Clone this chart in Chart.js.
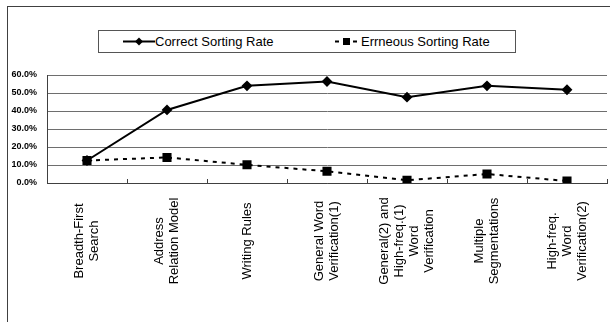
<!DOCTYPE html>
<html>
<head>
<meta charset="utf-8">
<script src="https://cdn.jsdelivr.net/npm/chart.js@4/dist/chart.umd.min.js"></script>
<style>
  html, body { margin: 0; padding: 0; background: #fff; overflow: hidden; }
  #frame { position: absolute; left: 7px; top: 6px; width: 700px; height: 400px;
           border-left: 1px solid #404040; border-top: 1px solid #404040; }
  #wrap { position: absolute; left: 0; top: 0; width: 614px; height: 322px; }
  #legend { position: absolute; left: 98px; top: 30px; width: 418px; height: 23px;
            box-sizing: border-box; border: 1px solid #555; background: #fff;
            font: 13px "Liberation Sans", Arial, sans-serif; color: #000; }
  #legend .item { position: absolute; top: 0; height: 21px; line-height: 21px; white-space: nowrap; }
  #legend svg { position: absolute; top: 4px; }
</style>
</head>
<body>
<div id="frame"></div>
<div id="wrap"><canvas id="chart"></canvas></div>
<div id="legend"></div>
<script>
var categories = [
    ['Breadth-First', 'Search'],
    ['Address', 'Relation Model'],
    ['Writing Rules'],
    ['General Word', 'Verification(1)'],
    ['General(2) and', 'High-freq.(1)', 'Word', 'Verification'],
    ['Multiple', 'Segmentations'],
    ['High-freq.', 'Word', 'Verification(2)']
];
var seriesNames = ['Correct Sorting Rate', 'Errneous Sorting Rate'];
var correctRate = [12.5, 40.6, 54.0, 56.4, 47.7, 54.0, 51.8];
var erroneousRate = [12.5, 14.2, 10.1, 6.5, 1.5, 5.0, 1.1];
var yMin = 0, yMax = 60, yStep = 10;

// legend drawn as html so the box + line/marker samples look like the original
function buildLegend() {
    var lg = document.getElementById('legend');
    lg.innerHTML =
        '<svg style="left:24px" width="32" height="13"><line x1="0" y1="6.5" x2="32" y2="6.5" stroke="#000" stroke-width="2"/>' +
        '<polygon points="16,2.5 20,6.5 16,10.5 12,6.5" fill="#000"/></svg>' +
        '<div class="item" style="left:56px">' + seriesNames[0] + '</div>' +
        '<svg style="left:235px" width="25" height="13"><line x1="1" y1="6.5" x2="24" y2="6.5" stroke="#000" stroke-width="2" stroke-dasharray="4 5"/>' +
        '<rect x="9" y="3" width="7" height="7" fill="#000"/></svg>' +
        '<div class="item" style="left:262px">' + seriesNames[1] + '</div>';
}
buildLegend();

// x labels: rotated, lines centred around a fixed band under the axis
var xLabelPlugin = {
    id: 'xLabels',
    afterDraw: function(chart) {
        var ctx = chart.ctx;
        var xs = chart.scales.x;
        var midY = 241, lh = 15;
        ctx.save();
        ctx.fillStyle = '#000';
        ctx.font = '13px "Liberation Sans", Arial, sans-serif';
        ctx.textAlign = 'center';
        ctx.textBaseline = 'middle';
        for (var i = 0; i < categories.length; i++) {
            var lines = categories[i];
            ctx.save();
            ctx.translate(xs.getPixelForValue(i), midY);
            ctx.rotate(-Math.PI / 2);
            for (var j = 0; j < lines.length; j++) {
                ctx.fillText(lines[j], 0, (j - (lines.length - 1) / 2) * lh);
            }
            ctx.restore();
        }
        ctx.restore();
    }
};

var ctx = document.getElementById('chart').getContext('2d');
var myChart = new Chart(ctx, {
    type: 'line',
    data: {
        labels: categories.map(function(c) { return c.join(' '); }),
        datasets: [{
            label: seriesNames[0],
            data: correctRate,
            borderColor: '#000',
            backgroundColor: '#000',
            borderWidth: 2,
            pointStyle: 'rectRot',
            pointRadius: 4,
            pointHoverRadius: 4,
            tension: 0
        }, {
            label: seriesNames[1],
            data: erroneousRate,
            borderColor: '#000',
            backgroundColor: '#000',
            borderWidth: 2,
            borderDash: [4, 5],
            pointStyle: 'rect',
            pointRadius: 5,
            pointHoverRadius: 5,
            tension: 0
        }]
    },
    options: {
        responsive: true,
        maintainAspectRatio: false,
        animation: false,
        layout: { padding: { top: 75, left: 0, right: 0, bottom: 0 } },
        plugins: {
            legend: { display: false },
            tooltip: { enabled: false }
        },
        scales: {
            x: {
                type: 'category',
                offset: true,
                grid: {
                    offset: true,
                    drawOnChartArea: false,
                    drawTicks: true,
                    tickLength: -4,
                    color: '#404040'
                },
                border: { display: true, color: '#404040', width: 1 },
                ticks: { display: false },
                afterFit: function(scale) { scale.height = 139; }
            },
            y: {
                min: yMin,
                max: yMax,
                grid: { color: '#6e6e6e', drawTicks: false },
                border: { display: true, color: '#404040', width: 1 },
                ticks: {
                    stepSize: yStep,
                    padding: 10,
                    color: '#000',
                    font: { family: '"Liberation Sans", Arial, sans-serif', size: 9, weight: 'bold' },
                    callback: function(v) { return v.toFixed(1) + '%'; }
                },
                afterFit: function(scale) { scale.width = 47; }
            }
        }
    },
    plugins: [xLabelPlugin]
});
</script>
</body>
</html>
